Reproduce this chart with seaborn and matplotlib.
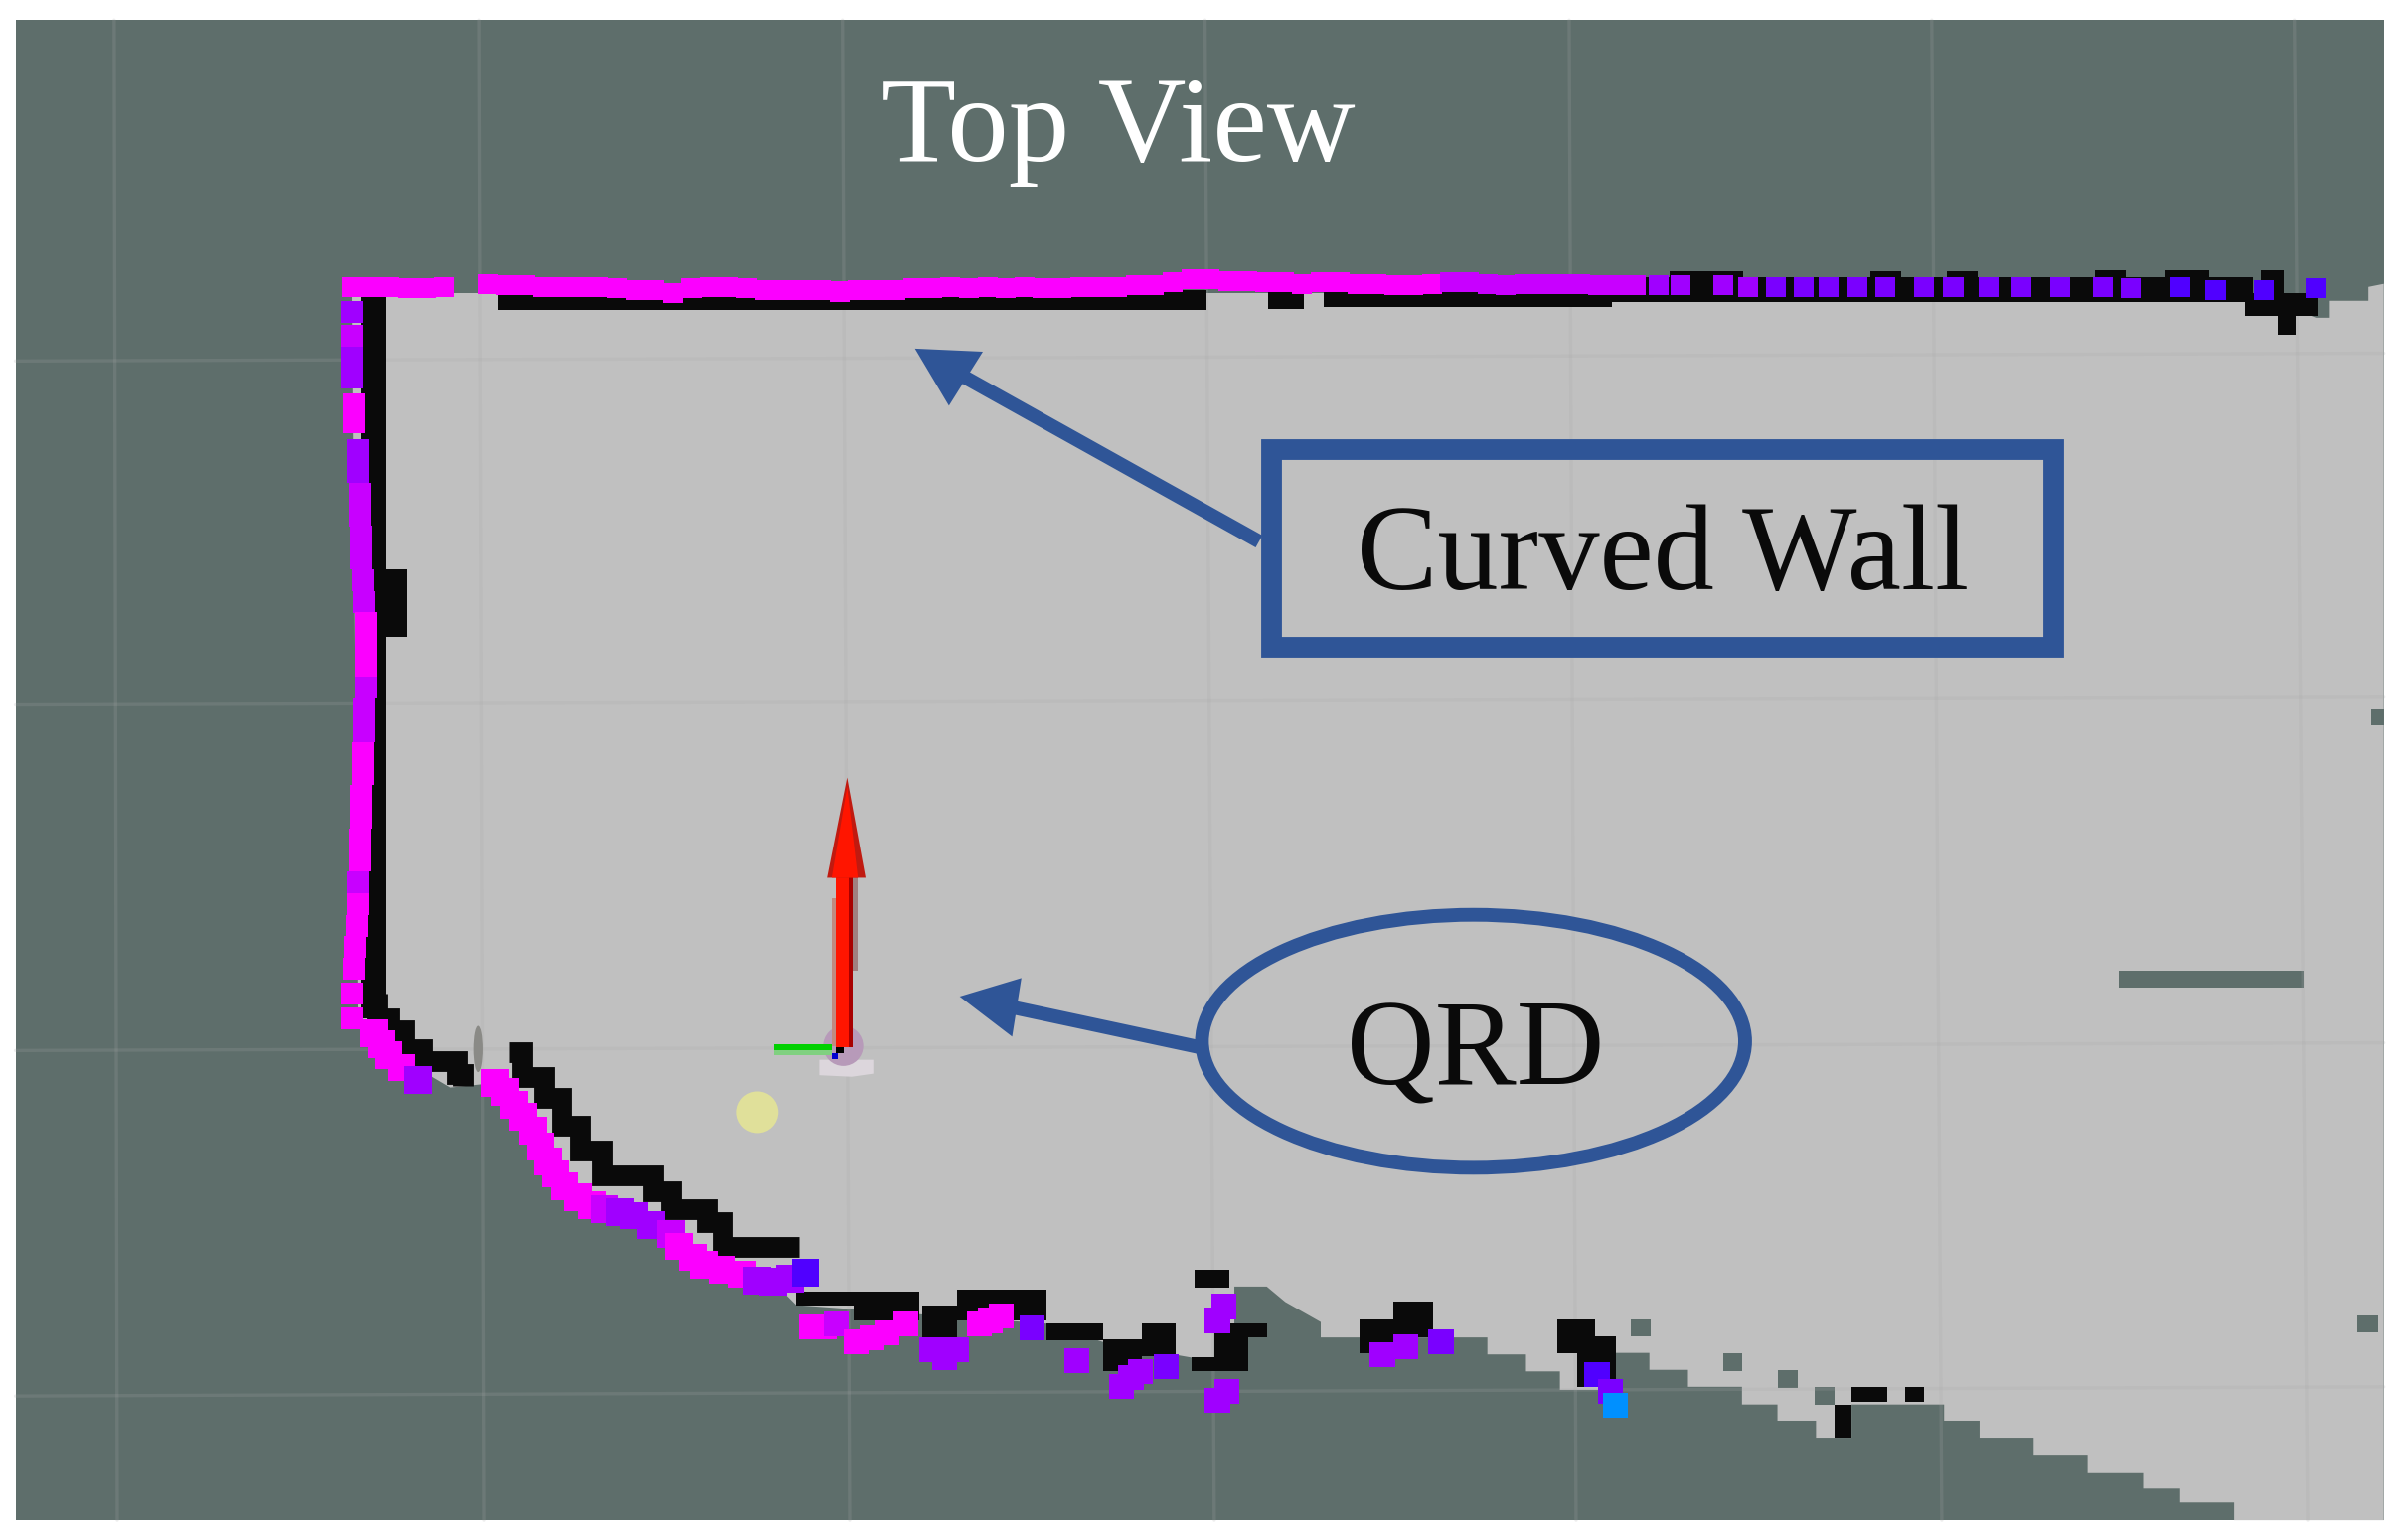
import matplotlib
matplotlib.use("Agg")
import matplotlib.pyplot as plt
from matplotlib.patches import Rectangle, Ellipse, Polygon, Circle
import pandas as pd
import seaborn as sns

sns.set_theme(style="white")
plt.rcParams["font.family"] = ["Liberation Serif", "DejaVu Serif"]

# ---- colours
DARK = "#5e6e6b"
FREE = "#c0c0c0"
BLUE = "#2f5597"
TONES = {"m": "#fb00ff", "p": "#c800ff", "v": "#a000ff", "i": "#7a00ff",
         "u": "#5000ff", "c": "#0090ff"}

# ---- map outline
free_x = [228, 1460, 1501, 1510, 1510, 1535, 1535, 1545, 1545, 1448, 1448, 1413, 1413, 1389, 1389, 1353, 1353,
          1318, 1318, 1283, 1283, 1260, 1260, 1200, 1200, 1177, 1177, 1152, 1152, 1129, 1129, 1094, 1094, 1069,
          1069, 1047, 1047, 1011, 1011, 989, 989, 964, 964, 856, 856, 833, 821, 800, 800, 787, 787, 772, 715,
          678, 516, 501, 456, 411, 366, 345, 321, 292, 258, 232]
free_y = [190, 190, 206, 206, 195, 195, 186, 184, 985.5, 985.5, 974, 974, 965, 965, 955, 955, 943,
          943, 932, 932, 921, 921, 910.5, 910.5, 932, 932, 921, 921, 910.5, 910.5, 899, 899, 888, 888,
          877, 877, 901, 901, 889, 889, 878, 878, 867, 867, 857, 844, 834, 834, 858, 858, 880, 880, 870,
          858, 846, 831, 820, 788, 769, 733, 702, 705, 685, 665]
grid_vx_top = [74, 310.5, 546, 781, 1017, 1252, 1487]
grid_vx_bottom = [76, 313.7, 550.7, 787, 1021.5, 1258.5, 1495.6]
grid_hy_left = [234, 457, 681, 905]
grid_hy_right = [229, 452, 676, 899]

# ---- occupancy cells: x0, x1, y0, y1
black_cells = [
    (323, 782, 188, 201), (822, 845, 188, 200), (858, 1045, 188, 199), (1045, 1460, 180, 196),
    (1082, 1130, 176, 182), (1212, 1232, 176, 182), (1262, 1282, 176, 182), (1358, 1378, 175, 182),
    (1403, 1432, 175, 182), (1465, 1480, 175, 190), (1455, 1502, 190, 205), (1476, 1488, 205, 217),
    (234, 250, 190, 369), (241, 264, 369, 413), (234, 250, 413, 660),
    (516, 596, 837, 846), (553, 596, 846, 856), (598, 620, 846, 868), (620, 678, 836, 856),
    (678, 715, 858, 869), (715, 740, 868, 889), (740, 762, 858, 879), (774, 797, 823, 835),
    (787, 821, 858, 867), (787, 809, 867, 889), (772, 787, 880, 889),
    (881, 906, 855, 877), (903, 929, 844, 867), (1009, 1034, 855, 877), (1022, 1047, 866, 899),
    (1189, 1200, 910.5, 932), (1200, 1223, 899, 908.5), (1235, 1247, 899, 908.5),
]
black_steps_a_x = [244, 244, 252, 262, 274, 296, 300]
black_steps_a_y = [644, 660, 668, 680, 688, 696, 704]
black_steps_b_x = [330, 338, 352, 364, 376, 390, 423, 435, 458, 468, 518]
black_steps_b_y = [682, 698, 712, 730, 746, 762, 772, 784, 792, 808, 808]
dark_cells = [
    (1057, 1070, 855, 866), (1117, 1129, 877, 889), (1152, 1165, 888, 900), (1176, 1189, 899, 911),
    (1528, 1541, 853, 864), (1537, 1545, 460, 470), (1373, 1493, 629, 640),
]

# ---- laser scan points
top_x = [228, 240, 252, 264, 276, 288, 316, 328, 340, 352, 364, 376, 388, 400, 412, 424, 436, 448, 460, 472, 484, 496,
         508, 520, 532, 544, 556, 568, 580, 592, 604, 616, 628, 640, 652, 664, 676, 688, 700, 712, 724, 736, 748, 760,
         772, 784, 796, 808, 820, 832, 844, 856, 868, 880, 892, 904, 916, 928, 940, 952, 964, 976, 988, 1000, 1012,
         1024, 1036, 1048, 1060, 1075, 1089, 1117, 1133, 1151, 1169, 1185, 1204, 1222, 1247, 1266, 1289, 1310, 1335,
         1363, 1381, 1413, 1436, 1467, 1501]
top_y = [186, 186, 186, 187, 187, 186, 184, 185, 185, 186, 186, 186, 186, 187, 188, 188, 190, 187, 186, 186, 187, 188,
         188, 188, 188, 189, 188, 188, 188, 187, 187, 186, 187, 186, 187, 186, 187, 187, 186, 186, 186, 185, 185, 183,
         181, 181, 182, 182, 183, 183, 184, 183, 183, 184, 184, 185, 185, 184, 183, 183, 184, 185, 184, 184, 184,
         184, 185, 185, 185, 185, 185, 185, 186, 186, 186, 186, 186, 186, 186, 186, 186, 186, 186,
         186, 187, 186, 188, 188, 187]
top_tone = list("m" * 58 + "p" * 11 + "v" * 4 + "i" * 12 + "u" * 4)
left_x = [228, 228, 228, 228, 229, 229, 232, 232, 233, 233, 234, 234, 235, 236, 237, 237, 237, 237, 236, 236, 235, 235,
          234, 234, 233, 233, 232, 232, 231, 230, 229, 228, 228]
left_y = [202, 218, 232, 245, 262, 274, 292, 306, 320, 334, 348, 362, 376, 390, 404, 418, 432, 446, 460, 474, 488, 502,
          516, 530, 544, 558, 572, 586, 600, 614, 628, 644, 660]
left_tone = list("vpvvmmvvppppppmmmpppmmmmmmpmmmmmm")
low_x = [242, 247, 252, 260, 271, 321, 327, 333, 339, 345, 350, 355, 360, 366, 375, 384, 392, 402, 411, 422, 435, 440,
         449, 456, 468, 481, 491, 501, 512, 522]
low_y = [670, 677, 684, 692, 700, 702, 708, 716, 724, 733, 743, 753, 761, 769, 776, 781, 784, 786, 788, 794, 800, 808,
         815, 820, 823, 826, 830, 831, 829, 825]
low_tone = list("mmmmvmmmmmmmmmmmpvvvpmmmmmvvvu")
bottom_x = [526, 534, 542, 555, 565, 575, 587, 604, 612, 620, 635, 642, 649, 669, 698, 727, 733, 739, 756, 793, 789, 795,
            789, 896, 911, 934, 1035, 1044, 1047]
bottom_y = [860, 860, 858, 870, 867, 864, 858, 875, 880, 875, 858, 856, 853, 861, 882, 899, 893, 889, 886, 847, 856,
            902, 908, 878, 873, 870, 891, 902, 911]
bottom_tone = list("mmpmmmmvvvmmmivvvvivvvvvvi") + list("uic")

# ---- annotations
title_text = "Top View"
wall_text = "Curved Wall"
qrd_text = "QRD"

fig = plt.figure(figsize=(24.22, 15.5), dpi=100, facecolor="white")
ax = fig.add_axes([0, 0, 1, 1])

ax.add_patch(Rectangle((10, 13), 1535, 972.5, fc=DARK, ec="none", zorder=0))
ax.fill(free_x, free_y, fc=FREE, ec="none", zorder=1)
for x0, x1, y0, y1 in dark_cells:
    ax.add_patch(Rectangle((x0, y0), x1 - x0, y1 - y0, fc=DARK, ec="none", zorder=1.5))

for xt, xb in zip(grid_vx_top, grid_vx_bottom):
    ax.plot([xt, xb], [13, 985.5], color="#a8a8a8", alpha=0.2, lw=2.4, zorder=2)
for yl, yr in zip(grid_hy_left, grid_hy_right):
    ax.plot([10, 1545], [yl, yr], color="#a8a8a8", alpha=0.2, lw=2.4, zorder=2)

for x0, x1, y0, y1 in black_cells:
    ax.add_patch(Rectangle((x0, y0), x1 - x0, y1 - y0, fc="#0a0a0a", ec="none", zorder=3))
for xs, ys in ((black_steps_a_x, black_steps_a_y), (black_steps_b_x, black_steps_b_y)):
    ax.plot(xs, ys, color="#0a0a0a", lw=15, drawstyle="steps-post",
            solid_joinstyle="miter", solid_capstyle="butt", zorder=3)

ax.add_patch(Ellipse((310, 680), 6, 30, fc="#8a8a86", ec="none", zorder=3))

groups = [(top_x, top_y, top_tone, 210), (left_x, left_y, left_tone, 250),
          (low_x, low_y, low_tone, 400), (bottom_x, bottom_y, bottom_tone, 330)]
for xs, ys, tones, size in groups:
    scan = pd.DataFrame({"x": xs, "y": ys, "tone": tones})
    sns.scatterplot(data=scan, x="x", y="y", hue="tone", palette=TONES, marker="s", s=size,
                    linewidth=0, legend=False, ax=ax, zorder=4)

# robot marker
ax.add_patch(Polygon([(531, 687), (566, 687), (566, 696), (552, 698), (531, 697)], fc="#dcd6dc", ec="none", zorder=4))
ax.add_patch(Circle((546.5, 678), 13, fc="#b79ab9", ec="none", zorder=4))
ax.add_patch(Rectangle((502, 677), 37, 4, fc="#00d000", ec="none", zorder=4.2))
ax.add_patch(Rectangle((502, 681), 37, 3, fc="#80d080", ec="none", zorder=4.2))
ax.add_patch(Rectangle((539, 582), 3, 96, fc="#c08a80", ec="none", zorder=4.3))
ax.add_patch(Rectangle((552, 569), 4, 60, fc="#a08080", ec="none", zorder=4.3))
ax.add_patch(Rectangle((542, 569), 8, 110, fc="#ff1500", ec="none", zorder=4.4))
ax.add_patch(Rectangle((550, 569), 2.5, 110, fc="#a80000", ec="none", zorder=4.4))
ax.add_patch(Polygon([(549, 504), (536, 569), (561, 569)], fc="#c01a10", ec="none", zorder=4.5))
ax.add_patch(Polygon([(549, 510), (539, 569), (556, 569)], fc="#ff1500", ec="none", zorder=4.6))
ax.add_patch(Rectangle((542, 679), 5, 4, fc="black", ec="none", zorder=4.7))
ax.add_patch(Rectangle((539, 683), 4, 3.5, fc="#0000d0", ec="none", zorder=4.7))
ax.add_patch(Circle((491, 721), 13.5, fc="#e0e09a", ec="none", zorder=4))

# callouts
ax.add_patch(Rectangle((823.7, 291), 507.3, 128, fc="none", ec=BLUE, lw=15, joinstyle="miter", zorder=5))
ax.add_patch(Ellipse((955, 675), 352, 164, fc="none", ec=BLUE, lw=10, zorder=5))
ax.plot([816, 619], [351, 241], color=BLUE, lw=10, solid_capstyle="butt", zorder=5)
ax.add_patch(Polygon([(593, 226), (637, 228), (615, 263)], fc=BLUE, ec="none", zorder=5))
ax.plot([778, 647], [679, 651], color=BLUE, lw=10, solid_capstyle="butt", zorder=5)
ax.add_patch(Polygon([(622, 646), (662, 634), (656, 672)], fc=BLUE, ec="none", zorder=5))

ax.text(725, 85, title_text, color="white", fontsize=88.5, ha="center", va="center", zorder=6)
ax.text(1077.6, 363, wall_text, color="#0a0a0a", fontsize=88, ha="center", va="center", zorder=6)
ax.text(956, 684, qrd_text, color="#0a0a0a", fontsize=88.5, ha="center", va="center", zorder=6)

ax.set_xlim(0, 1560)
ax.set_ylim(998.3, 0)
ax.axis("off")

fig.savefig("out.png", dpi=100, facecolor="white")
